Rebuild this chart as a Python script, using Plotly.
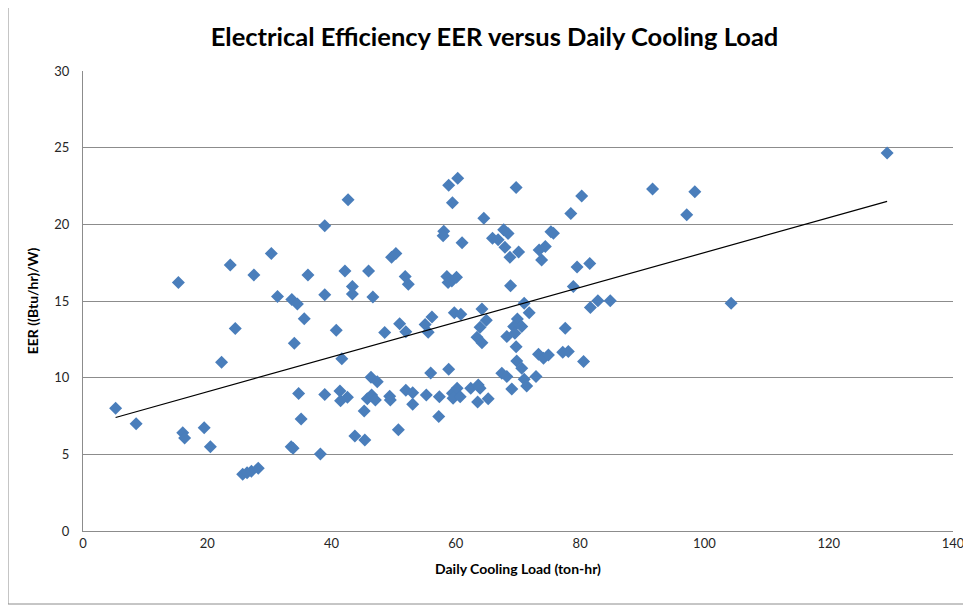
import numpy as np
import plotly.graph_objects as go

# Daily cooling load (ton-hr)
load = [
    38.9, 30.3, 23.7, 27.5, 36.2, 15.35, 31.3, 33.6, 34.5, 38.9,
    35.6, 24.5, 34.0, 22.3, 34.7, 38.9, 5.25, 8.55, 16.05, 16.35,
    19.5, 20.5, 35.1, 33.5, 33.8, 38.2, 25.7, 26.4, 27.1, 28.2,
    42.65, 58.85, 60.3, 69.7, 59.45, 64.5, 58.05, 57.95, 61.0, 65.9,
    66.8, 67.7, 68.4, 67.9, 68.7, 70.1, 49.65, 50.35, 42.15, 45.95,
    43.35, 43.35, 46.65, 51.85, 52.35, 58.55, 59.35, 60.1, 58.75, 68.8,
    71.0, 40.75, 41.65, 48.55, 50.95, 51.95, 55.05, 55.55, 56.15, 59.75,
    60.8, 64.2, 64.9, 63.9, 63.4, 64.2, 69.9, 70.6, 69.3, 68.2,
    69.5, 69.7, 71.8, 55.95, 58.85, 46.35, 47.35, 41.35, 41.45, 42.55,
    45.25, 45.75, 46.45, 47.05, 49.35, 49.45, 51.95, 53.05, 53.05, 55.25,
    57.35, 57.25, 59.45, 60.2, 59.55, 60.7, 62.4, 63.6, 63.9, 63.5,
    65.2, 67.4, 68.2, 69.0, 69.8, 70.6, 71.0, 71.4, 43.75, 45.35,
    50.75, 80.25, 78.5, 91.65, 98.45, 97.15, 75.3, 75.7, 73.4, 74.4,
    73.8, 79.5, 81.55, 78.9, 82.85, 84.85, 81.65, 104.3, 77.6, 73.3,
    74.1, 74.9, 77.2, 78.1, 80.55, 72.9, 129.4,
]

# EER ((Btu/hr)/W)
eer = [
    19.9, 18.1, 17.35, 16.7, 16.7, 16.2, 15.3, 15.1, 14.8, 15.4,
    13.85, 13.2, 12.25, 11.0, 8.96, 8.9, 8.0, 7.0, 6.4, 6.07,
    6.74, 5.5, 7.3, 5.5, 5.4, 5.02, 3.7, 3.8, 3.9, 4.1,
    21.6, 22.55, 23.0, 22.4, 21.4, 20.4, 19.55, 19.25, 18.8, 19.1,
    19.0, 19.65, 19.4, 18.5, 17.85, 18.2, 17.85, 18.1, 16.96, 16.96,
    15.94, 15.46, 15.26, 16.6, 16.1, 16.6, 16.3, 16.55, 16.2, 16.0,
    14.85, 13.1, 11.24, 12.94, 13.52, 13.0, 13.46, 12.96, 13.96, 14.24,
    14.13, 14.48, 13.74, 13.29, 12.64, 12.28, 13.83, 13.33, 13.33, 12.68,
    12.9, 12.02, 14.24, 10.3, 10.55, 10.03, 9.74, 9.13, 8.5, 8.72,
    7.83, 8.63, 8.87, 8.55, 8.79, 8.55, 9.18, 9.02, 8.26, 8.87,
    8.76, 7.46, 8.98, 9.31, 8.66, 8.76, 9.31, 9.52, 9.31, 8.42,
    8.63, 10.29, 10.07, 9.26, 11.09, 10.61, 9.9, 9.46, 6.2, 5.94,
    6.61, 21.85, 20.7, 22.3, 22.13, 20.63, 19.52, 19.42, 18.33, 18.55,
    17.68, 17.22, 17.44, 15.94, 15.02, 15.02, 14.57, 14.85, 13.22, 11.52,
    11.27, 11.48, 11.66, 11.7, 11.05, 10.07, 24.66,
]

x_ticks = [0, 20, 40, 60, 80, 100, 120, 140]
y_ticks = [0, 5, 10, 15, 20, 25, 30]

# linear trendline from the data
slope, intercept = np.polyfit(load, eer, 1)
tx = [min(load), max(load)]
ty = [slope * v + intercept for v in tx]

font = "Lato, 'Open Sans', sans-serif"
grid = "#8c8c8c"

# the page body has an 8px default margin; size the figure to fit inside
OFF = 8
W, H = 971 - OFF, 605 - OFF

fig = go.Figure()
fig.add_trace(go.Scatter(
    x=load, y=eer, mode="markers",
    marker=dict(symbol="diamond", size=10, color="#4A7EBB", line=dict(width=0)),
    showlegend=False, hoverinfo="x+y",
))
fig.add_trace(go.Scatter(
    x=tx, y=ty, mode="lines",
    line=dict(color="black", width=1.2),
    showlegend=False, hoverinfo="skip",
))

fig.update_layout(
    width=W, height=H,
    margin=dict(l=83 - OFF, r=18, t=71 - OFF, b=74, autoexpand=False),
    paper_bgcolor="white", plot_bgcolor="white",
    font=dict(family=font, color="#262626"),
    title=dict(
        text="<b>Electrical Efficiency EER versus Daily Cooling Load</b>",
        x=((208 + 781) / 2 - OFF) / W, xanchor="center", xref="container",
        y=1 - (37 - OFF) / H, yanchor="middle", yref="container",
        font=dict(size=25.5, color="black", family=font),
    ),
    xaxis=dict(
        range=[0, 140], tickvals=x_ticks, ticktext=[str(v) for v in x_ticks],
        showgrid=False, zeroline=False, automargin=False,
        showline=True, linecolor=grid, linewidth=1,
        ticks="", tickfont=dict(size=13, color="#262626"),
        title=dict(text="<b>Daily Cooling Load (ton-hr)</b>", font=dict(size=14, color="black"), standoff=14),
    ),
    yaxis=dict(
        range=[0, 30], tickvals=y_ticks, ticktext=[str(v) for v in y_ticks],
        showgrid=True, gridcolor=grid, gridwidth=1, zeroline=False, automargin=False,
        showline=True, linecolor=grid, linewidth=1,
        ticks="", tickfont=dict(size=13, color="#262626"),
        ticklabelstandoff=10,
        title=dict(text="<b>EER ((Btu/hr)/W)</b>", font=dict(size=14, color="black"), standoff=12),
    ),
    shapes=[dict(
        type="rect", xref="paper", yref="paper",
        x0=(8 - 83) / 870, x1=(969 - 83) / 870,
        y0=(531 - 604) / 460, y1=(531 - 7) / 460,
        line=dict(color="#8c8c8c", width=1), fillcolor="rgba(0,0,0,0)", layer="below",
    )],
)

fig.write_html("out.html")
